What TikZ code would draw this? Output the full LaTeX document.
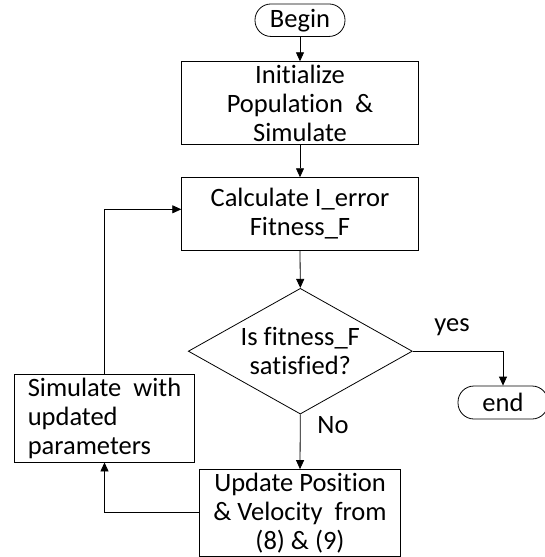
\documentclass[tikz,border=0pt]{standalone}
\usepackage{fontspec}
\setmainfont{Carlito}[Ligatures=NoCommon]
\usetikzlibrary{shapes.geometric,arrows.meta,calc}
\begin{document}
\begin{tikzpicture}[x=1pt,y=-1pt,
  every node/.style={font=\fontsize{26.5}{29}\selectfont, inner sep=0pt},
  proc/.style={draw, line width=0.8pt, align=center},
  term/.style={draw, line width=0.8pt, rounded corners=16pt, minimum height=32.5pt},
  decis/.style={draw, line width=0.8pt, shape=diamond, aspect=1.78, minimum width=224pt, minimum height=125.7pt, align=center},
  arr/.style={line width=0.8pt, -{Triangle[length=9pt,width=8pt]}},
  lbl/.style={}]
\useasboundingbox (0,0) rectangle (545,557);
\node[term, minimum width=90pt] (begin) at (300,20.2) {Begin};
\node[proc, minimum width=236.6pt, minimum height=82.6pt] (init) at (300,103) {Initialize\\Population\ \ \&\\Simulate};
\node[proc, minimum width=236.6pt, minimum height=72.3pt] (calc) at (300,213.8) {Calculate I\_error\\Fitness\_F};
\node[decis] (dec) at (300.3,351.2) {Is fitness\_F\\satisfied?};
\node[term, minimum width=90pt, minimum height=33pt] (end) at (503,402.5) {end};
\node[proc, minimum width=179.6pt, minimum height=88pt, align=left] (sim) at (104.5,418) {Simulate\ \ with\\updated\\parameters};
\node[proc, minimum width=201.4pt, minimum height=86.5pt] (upd) at (300,512.8) {Update Position\\\&~Velocity\ \ from\\(8) \& (9)};
\node[lbl] (yes) at (452,327) {yes};
\node[lbl] (no) at (333,425) {No};
\coordinate (fb) at (104.5,209.3);
\draw[arr] (begin.south) -- (init.north);
\draw[arr] (init.south) -- (calc.north);
\draw[arr] (calc.south) -- (dec.north);
\draw[arr] (dec.east) -| (end.north);
\draw[arr] (dec.south) -- (upd.north);
\draw[arr] (upd.west) -| (sim.south);
\draw[arr] (sim.north) -- (fb) -- (fb -| calc.west);
\end{tikzpicture}
\end{document}
